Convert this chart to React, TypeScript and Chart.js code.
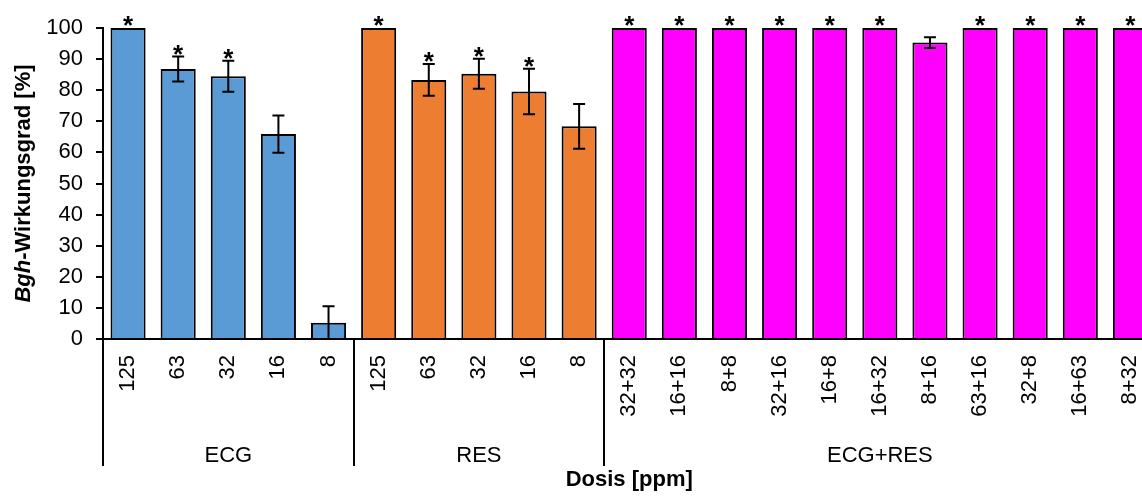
import React, { useEffect, useRef } from "react";
import { Chart, registerables } from "chart.js";

Chart.register(...registerables);

const categories = [
  "125", "63", "32", "16", "8",
  "125", "63", "32", "16", "8",
  "32+32", "16+16", "8+8", "32+16", "16+8", "16+32", "8+16", "63+16", "32+8", "16+63", "8+32",
];
const groupNames = ["ECG", "RES", "ECG+RES"];
const groupSizes = [5, 5, 11];
const groupColors = ["#5B9BD5", "#ED7D31", "#FF00FF"];
const values = [
  100, 86.8, 84.5, 65.9, 5.2,
  100, 83.3, 85.3, 79.6, 68.4,
  100, 100, 100, 100, 100, 100, 95.3, 100, 100, 100, 100,
];
const errors = [
  0, 4.0, 5.0, 6.0, 5.3,
  0, 5.1, 4.8, 7.3, 7.2,
  0, 0, 0, 0, 0, 0, 1.7, 0, 0, 0, 0,
];
const significance = [
  "*", "*", "*", "", "",
  "*", "*", "*", "*", "",
  "*", "*", "*", "*", "*", "*", "", "*", "*", "*", "*",
];
const yTitleItalic = "Bgh";
const yTitleRest = "-Wirkungsgrad [%]";
const xTitle = "Dosis [ppm]";

const FONT = "'Liberation Sans', Arial, sans-serif";

const barColors: string[] = [];
groupSizes.forEach((n, g) => {
  for (let i = 0; i < n; i++) barColors.push(groupColors[g]);
});

const overlayPlugin = {
  id: "overlay",
  afterDatasetsDraw(chart: any) {
    const ctx = chart.ctx;
    const xs = chart.scales.x;
    const ys = chart.scales.y;
    const area = chart.chartArea;
    ctx.save();
    ctx.strokeStyle = "#000";
    ctx.lineWidth = 2;
    values.forEach((v, i) => {
      const e = errors[i];
      if (!e) return;
      const x = xs.getPixelForValue(i);
      const yTop = ys.getPixelForValue(v + e);
      const yBot = Math.min(ys.getPixelForValue(Math.max(v - e, 0)), area.bottom);
      ctx.beginPath();
      ctx.moveTo(x, yTop);
      ctx.lineTo(x, yBot);
      ctx.moveTo(x - 6, yTop);
      ctx.lineTo(x + 6, yTop);
      if (v - e > 0) {
        ctx.moveTo(x - 6, yBot);
        ctx.lineTo(x + 6, yBot);
      }
      ctx.stroke();
    });
    ctx.fillStyle = "#000";
    ctx.font = `bold 26px ${FONT}`;
    ctx.textAlign = "center";
    ctx.textBaseline = "alphabetic";
    values.forEach((v, i) => {
      if (!significance[i]) return;
      const x = xs.getPixelForValue(i);
      const yTop = ys.getPixelForValue(v + errors[i]);
      ctx.fillText(significance[i], x, yTop + 6);
    });
    ctx.restore();
  },
  afterDraw(chart: any) {
    const ctx = chart.ctx;
    const xs = chart.scales.x;
    const area = chart.chartArea;
    const catW = xs.getPixelForValue(1) - xs.getPixelForValue(0);
    ctx.save();
    ctx.strokeStyle = "#000";
    ctx.lineWidth = 2;
    ctx.fillStyle = "#000";
    let start = 0;
    const sepBottom = area.bottom + 127;
    for (let g = 0; g <= groupSizes.length; g++) {
      const x = Math.round(xs.getPixelForValue(start) - catW / 2);
      ctx.beginPath();
      ctx.moveTo(x, area.bottom);
      ctx.lineTo(x, sepBottom);
      ctx.stroke();
      if (g < groupSizes.length) {
        const mid = (xs.getPixelForValue(start) + xs.getPixelForValue(start + groupSizes[g] - 1)) / 2;
        ctx.font = `22px ${FONT}`;
        ctx.textAlign = "center";
        ctx.textBaseline = "alphabetic";
        ctx.fillText(groupNames[g], mid, area.bottom + 123);
        start += groupSizes[g];
      }
    }
    ctx.font = `bold 22px ${FONT}`;
    ctx.textAlign = "center";
    ctx.fillText(xTitle, (area.left + area.right) / 2, area.bottom + 147);
    ctx.translate(30, (area.top + area.bottom) / 2);
    ctx.rotate(-Math.PI / 2);
    ctx.textAlign = "left";
    ctx.font = `italic bold 22px ${FONT}`;
    const w1 = ctx.measureText(yTitleItalic).width;
    ctx.font = `bold 22px ${FONT}`;
    const w2 = ctx.measureText(yTitleRest).width;
    const x0 = -(w1 + w2) / 2;
    ctx.font = `italic bold 22px ${FONT}`;
    ctx.fillText(yTitleItalic, x0, 0);
    ctx.font = `bold 22px ${FONT}`;
    ctx.fillText(yTitleRest, x0 + w1, 0);
    ctx.restore();
  },
};

export default function App() {
  const ref = useRef<HTMLCanvasElement | null>(null);
  useEffect(() => {
    if (!ref.current) return;
    Chart.defaults.font.family = FONT;
    const chart = new Chart(ref.current, {
      type: "bar",
      data: {
        labels: categories,
        datasets: [
          {
            data: values,
            backgroundColor: barColors,
            borderColor: "#000",
            borderWidth: 2,
            barPercentage: 0.7,
            categoryPercentage: 1,
          },
        ],
      },
      options: {
        responsive: false,
        animation: false,
        layout: { padding: { top: 28, right: 7, left: 0, bottom: 0 } },
        plugins: { legend: { display: false }, tooltip: { enabled: false } },
        scales: {
          x: {
            offset: true,
            grid: { display: false, drawTicks: false },
            border: { display: true, color: "#000", width: 2 },
            ticks: {
              color: "#000",
              font: { size: 22, family: FONT },
              minRotation: 90,
              maxRotation: 90,
              autoSkip: false,
              padding: 16,
            },
            afterFit: (s: any) => {
              s.height = 157;
            },
          },
          y: {
            min: 0,
            max: 100,
            grid: { display: true, drawOnChartArea: false, drawTicks: true, tickLength: 7, color: "#000", lineWidth: 2 },
            border: { display: true, color: "#000", width: 2 },
            ticks: {
              stepSize: 10,
              color: "#000",
              font: { size: 22, family: FONT },
              padding: 13,
            },
            afterFit: (s: any) => {
              s.width = 103;
            },
          },
        },
      },
      plugins: [overlayPlugin],
    });
    return () => chart.destroy();
  }, []);
  return (
    <div
      style={{
        position: "fixed",
        left: 0,
        top: 0,
        width: 1142,
        height: 496,
        overflow: "hidden",
        background: "#fff",
      }}
    >
      <canvas ref={ref} width={1173} height={496} style={{ display: "block", width: 1173, height: 496 }} />
    </div>
  );
}
